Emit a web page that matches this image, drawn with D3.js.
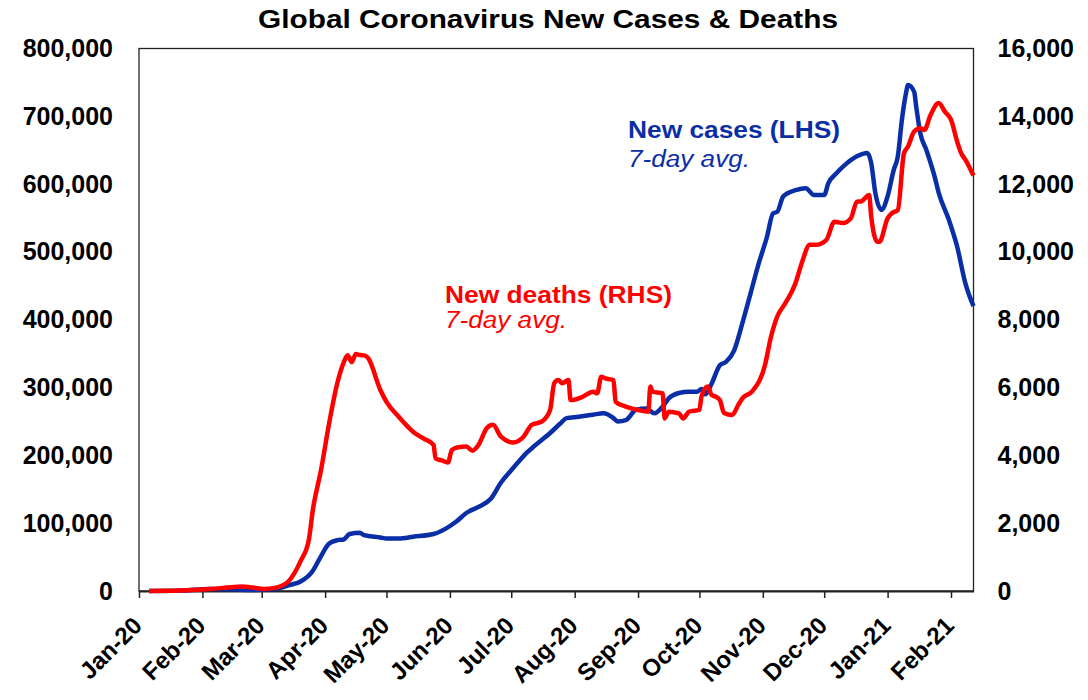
<!DOCTYPE html>
<html>
<head>
<meta charset="utf-8">
<script src="https://cdn.jsdelivr.net/npm/d3@7"></script>
<style>
  body { margin: 0; background: #fff; }
  svg { font-family: "Liberation Sans", Arial, sans-serif; }
</style>
</head>
<body>
<div id="chart"></div>
<script>
// Global new cases, 7-day avg (LHS)
const caseDates = [
  "2020-01-06","2020-01-22","2020-02-04","2020-02-14","2020-02-24","2020-03-04","2020-03-10","2020-03-15",
  "2020-03-20","2020-03-26","2020-03-29","2020-04-03","2020-04-07","2020-04-10","2020-04-13","2020-04-18",
  "2020-04-20","2020-04-28","2020-05-01","2020-05-07","2020-05-14","2020-05-24","2020-05-30","2020-06-04",
  "2020-06-09","2020-06-15","2020-06-21","2020-06-26","2020-07-01","2020-07-05","2020-07-09","2020-07-12",
  "2020-07-20","2020-07-25","2020-07-28","2020-08-03","2020-08-10","2020-08-15","2020-08-20","2020-08-22",
  "2020-08-26","2020-08-31","2020-09-05","2020-09-09","2020-09-13","2020-09-16","2020-09-21","2020-09-26",
  "2020-09-30","2020-10-02","2020-10-04","2020-10-07","2020-10-11","2020-10-14","2020-10-18","2020-10-22",
  "2020-10-26","2020-10-30","2020-11-03","2020-11-06","2020-11-08","2020-11-11","2020-11-17","2020-11-22",
  "2020-11-26","2020-12-01","2020-12-03","2020-12-07","2020-12-11","2020-12-17","2020-12-22","2020-12-24",
  "2020-12-26","2020-12-29","2021-01-01","2021-01-04","2021-01-06","2021-01-08","2021-01-10","2021-01-11",
  "2021-01-14","2021-01-15","2021-01-17","2021-01-20","2021-01-24","2021-01-26","2021-01-31","2021-02-04",
  "2021-02-08","2021-02-12"
];
const caseValues = [
  0, 600, 3000, 2500, 1500, 2500, 4500, 9000,
  14000, 30000, 46000, 70000, 75000, 76000, 84000, 86000,
  82500, 79000, 77500, 77500, 80000, 84000, 92000, 102000,
  115000, 124000, 136000, 160000, 178000, 192000, 205000, 213000,
  233000, 247000, 255000, 257000, 260000, 262000, 255000, 250000,
  252000, 267000, 269000, 262000, 272000, 284000, 292000, 294000,
  294000, 298000, 290000, 306000, 333000, 338000, 355000, 395000,
  439000, 483000, 522000, 557000, 559000, 582000, 591000, 594000,
  584000, 584000, 601000, 616000, 628000, 641000, 646000, 631000,
  587000, 562000, 582000, 621000, 641000, 695000, 734000, 746000,
  736000, 714000, 675000, 650000, 611000, 587000, 547000, 508000,
  454000, 420000
];

// Global new deaths, 7-day avg (RHS)
const deathDates = [
  "2020-01-06","2020-01-25","2020-02-05","2020-02-15","2020-02-20","2020-02-26","2020-03-02","2020-03-08",
  "2020-03-14","2020-03-20","2020-03-24","2020-03-26","2020-03-30","2020-04-03","2020-04-07","2020-04-10",
  "2020-04-12","2020-04-14","2020-04-16","2020-04-18","2020-04-20","2020-04-22","2020-04-28","2020-05-01",
  "2020-05-07","2020-05-14","2020-05-19","2020-05-24","2020-05-25","2020-05-28","2020-05-31","2020-06-02",
  "2020-06-05","2020-06-09","2020-06-12","2020-06-15","2020-06-19","2020-06-22","2020-06-26","2020-07-02",
  "2020-07-07","2020-07-11","2020-07-16","2020-07-20","2020-07-22","2020-07-24","2020-07-26","2020-07-29",
  "2020-07-30","2020-08-05","2020-08-10","2020-08-12","2020-08-14","2020-08-16","2020-08-20","2020-08-21",
  "2020-08-26","2020-09-01","2020-09-06","2020-09-07","2020-09-08","2020-09-13","2020-09-14","2020-09-16",
  "2020-09-21","2020-09-23","2020-09-26","2020-10-01","2020-10-02","2020-10-05","2020-10-07","2020-10-09",
  "2020-10-11","2020-10-13","2020-10-17","2020-10-20","2020-10-22","2020-10-27","2020-11-02","2020-11-05",
  "2020-11-08","2020-11-12","2020-11-17","2020-11-20","2020-11-24","2020-11-27","2020-12-02","2020-12-06",
  "2020-12-10","2020-12-14","2020-12-17","2020-12-19","2020-12-23","2020-12-24","2020-12-27","2020-12-28",
  "2021-01-01","2021-01-03","2021-01-06","2021-01-09","2021-01-11","2021-01-14","2021-01-17","2021-01-19",
  "2021-01-22","2021-01-26","2021-01-29","2021-02-01","2021-02-04","2021-02-06","2021-02-08","2021-02-10",
  "2021-02-12"
];
const deathValues = [
  0, 20, 60, 110, 130, 100, 60, 100,
  280, 880, 1500, 2390, 3570, 4960, 6140, 6730,
  6950, 6750, 6990, 6960, 6950, 6870, 5930, 5580,
  5140, 4700, 4500, 4310, 3910, 3850, 3790, 4160,
  4240, 4260, 4140, 4310, 4800, 4900, 4550, 4380,
  4550, 4900, 5000, 5340, 6130, 6220, 6130, 6220,
  5630, 5730, 5880, 5830, 6320, 6270, 6220, 5580,
  5440, 5340, 5290, 6030, 5880, 5830, 5090, 5290,
  5240, 5090, 5290, 5340, 5730, 6030, 5780, 5730,
  5630, 5250, 5190, 5490, 5680, 5900, 6650, 7500,
  8090, 8490, 9080, 9670, 10210, 10210, 10350, 10890,
  10850, 10990, 11480, 11490, 11680, 11040, 10300, 10300,
  10990, 11140, 11240, 12910, 13110, 13550, 13650, 13600,
  14040, 14390, 14140, 13900, 13260, 12910, 12720, 12500,
  12250
];

const monthTicks = [
  "2020-01-01","2020-02-01","2020-03-01","2020-04-01","2020-05-01","2020-06-01","2020-07-01",
  "2020-08-01","2020-09-01","2020-10-01","2020-11-01","2020-12-01","2021-01-01","2021-02-01"
];
const leftTicks = [0, 100000, 200000, 300000, 400000, 500000, 600000, 700000, 800000];
const rightTicks = [0, 2000, 4000, 6000, 8000, 10000, 12000, 14000, 16000];

const blue = "#0a2ea6", red = "#ff0000";

const W = 1088, H = 700;
const margin = {top: 48.5, right: 114.5, bottom: 109, left: 139};
const width = W - margin.left - margin.right,
      height = H - margin.top - margin.bottom;

const parse = d3.timeParse("%Y-%m-%d");
const cases = caseDates.map((d, i) => ({date: parse(d), value: caseValues[i]}));
const deaths = deathDates.map((d, i) => ({date: parse(d), value: deathValues[i]}));

const svg = d3.select("#chart").append("svg")
    .attr("width", W)
    .attr("height", H);

const g = svg.append("g")
    .attr("transform", `translate(${margin.left}, ${margin.top})`);

const x = d3.scaleTime()
    .domain([parse("2020-01-01"), parse("2021-02-12")])
    .range([0, width]);

const yL = d3.scaleLinear().domain([0, 800000]).range([height, 0]);
const yR = d3.scaleLinear().domain([0, 16000]).range([height, 0]);

// plot frame
g.append("rect")
    .attr("width", width)
    .attr("height", height)
    .attr("fill", "none")
    .attr("stroke", "#222")
    .attr("stroke-width", 1.3);

// x axis
const xAxis = g.append("g")
    .attr("transform", `translate(0, ${height})`)
    .call(d3.axisBottom(x)
        .tickValues(monthTicks.map(parse))
        .tickFormat(d3.timeFormat("%b-%y"))
        .tickSize(7)
        .tickSizeOuter(0));
xAxis.select(".domain").attr("stroke", "#222").attr("stroke-width", 2);
xAxis.selectAll(".tick line").attr("stroke", "#222").attr("stroke-width", 1.5);
xAxis.selectAll("text")
    .attr("x", 0).attr("y", 0).attr("dy", 0)
    .attr("transform", "translate(4, 36) rotate(-45)")
    .style("text-anchor", "end")
    .style("font-size", "24px")
    .style("font-weight", "bold")
    .style("fill", "#000");

// left axis
const leftAxis = g.append("g")
    .call(d3.axisLeft(yL)
        .tickValues(leftTicks)
        .tickFormat(d3.format(","))
        .tickSize(0)
        .tickPadding(26));
leftAxis.select(".domain").remove();
leftAxis.selectAll("text")
    .style("font-size", "25px")
    .style("font-weight", "bold")
    .style("fill", "#000");

// right axis
const rightAxis = g.append("g")
    .attr("transform", `translate(${width}, 0)`)
    .call(d3.axisRight(yR)
        .tickValues(rightTicks)
        .tickFormat(d3.format(","))
        .tickSize(0)
        .tickPadding(24));
rightAxis.select(".domain").remove();
rightAxis.selectAll("text")
    .style("font-size", "25px")
    .style("font-weight", "bold")
    .style("fill", "#000");

// lines
const lineL = d3.line().x(d => x(d.date)).y(d => yL(d.value)).curve(d3.curveMonotoneX);
const lineR = d3.line().x(d => x(d.date)).y(d => yR(d.value)).curve(d3.curveMonotoneX);

g.append("path")
    .datum(cases)
    .attr("fill", "none")
    .attr("stroke", blue)
    .attr("stroke-width", 4.5)
    .attr("stroke-linejoin", "round")
    .attr("d", lineL);

g.append("path")
    .datum(deaths)
    .attr("fill", "none")
    .attr("stroke", red)
    .attr("stroke-width", 4.5)
    .attr("stroke-linejoin", "round")
    .attr("d", lineR);

// title
svg.append("text")
    .attr("x", 258)
    .attr("y", 28)
    .attr("textLength", 580)
    .attr("lengthAdjust", "spacingAndGlyphs")
    .style("font-size", "26px")
    .style("font-weight", "bold")
    .text("Global Coronavirus New Cases & Deaths");

// series labels
function label(tx, ty, txt, len, color, italic) {
  svg.append("text")
      .attr("x", tx)
      .attr("y", ty)
      .attr("textLength", len)
      .attr("lengthAdjust", "spacingAndGlyphs")
      .style("font-size", "23px")
      .style("font-weight", italic ? "normal" : "bold")
      .style("font-style", italic ? "italic" : "normal")
      .style("fill", color)
      .text(txt);
}
label(628, 138, "New cases (LHS)", 212, blue, false);
label(628, 166.5, "7-day avg.", 122, blue, true);
label(445, 302.5, "New deaths (RHS)", 227, red, false);
label(445, 328, "7-day avg.", 122, red, true);
</script>
</body>
</html>
